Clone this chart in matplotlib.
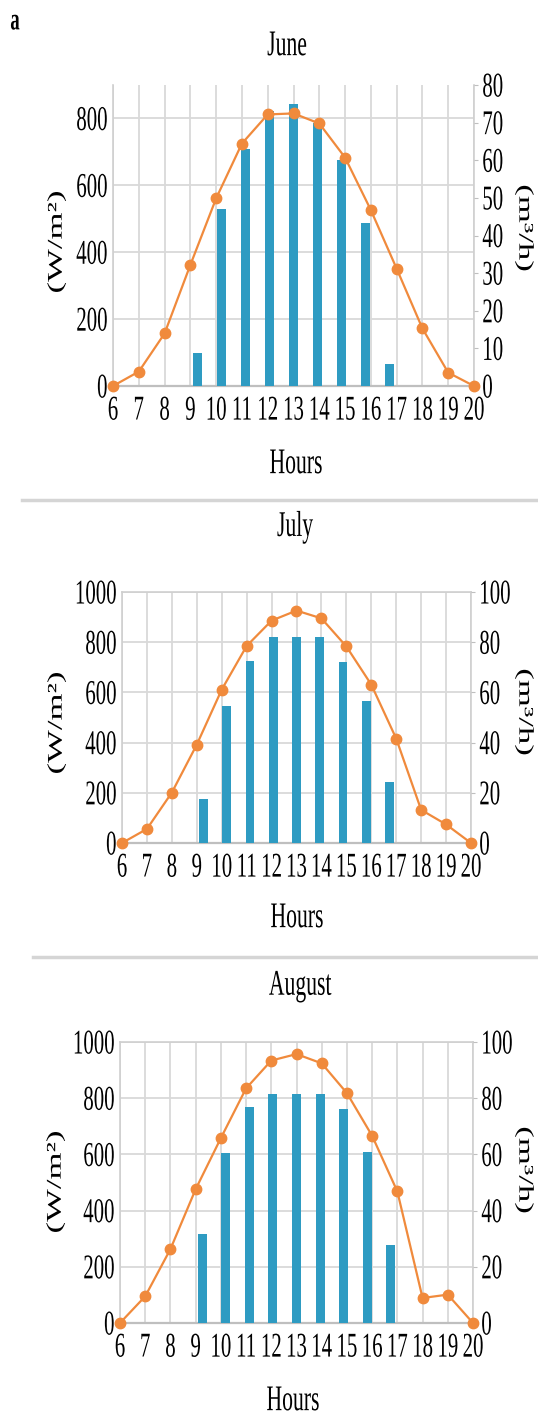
import matplotlib.pyplot as plt
from matplotlib.patheffects import AbstractPathEffect
from matplotlib.transforms import Affine2D
import numpy as np

plt.rcParams['font.family'] = ['Liberation Serif', 'DejaVu Serif']

hours = [6, 7, 8, 9, 10, 11, 12, 13, 14, 15, 16, 17, 18, 19, 20]
months = ['June', 'July', 'August']

# solar radiation (W/m2), orange line, left axis
rad_june = [0, 43, 157, 362, 561, 725, 812, 815, 785, 683, 526, 351, 172, 40, 0]
rad_july = [0, 56, 201, 392, 611, 785, 886, 926, 895, 783, 631, 416, 132, 74, 0]
rad_aug = [0, 95, 263, 476, 658, 835, 934, 957, 924, 818, 666, 468, 89, 101, 0]

# pumped flow (m3/h), blue bars, right axis
flow_june = [0, 0, 0, 8.9, 47, 63, 73, 75, 70, 60, 43.4, 5.8, 0, 0, 0]
flow_july = [0, 0, 0, 17.7, 54.4, 72.5, 82, 82, 82, 72.2, 56.4, 24.4, 0, 0, 0]
flow_aug = [0, 0, 0, 31.8, 60.4, 77, 81.5, 81.5, 81.5, 76, 61, 27.8, 0, 0, 0]

left_ticks = [[0, 200, 400, 600, 800], [0, 200, 400, 600, 800, 1000], [0, 200, 400, 600, 800, 1000]]
left_top = [900, 1000, 1000]
right_ticks = [list(range(0, 81, 10)), list(range(0, 101, 20)), list(range(0, 101, 20))]

W, H = 538, 1416
# plot boxes in pixels: x0, x1, ytop, ybottom
boxes = [(113, 474, 85, 386), (122, 471, 592, 843), (120, 473, 1042, 1323)]
title_xy = [(287, 46), (295, 528), (300, 987)]
hours_xy = [(296, 464), (297, 918), (293, 1401)]
wlab_xy = [(57, 242), (57, 723), (56, 1182)]
mlab_xy = [(524, 228), (524, 712), (524, 1170)]

blue = '#2E9BC2'
orange = '#F08A3C'
grid = '#D9D9D9'
SY = 1 / 0.6  # the scanned figure's text is tall and narrow


class Stretch(AbstractPathEffect):
    def __init__(self, sy=SY, anchor='center'):
        super().__init__()
        self.sy = sy
        self.anchor = anchor

    def draw_path(self, renderer, gc, tpath, affine, rgbFace=None):
        ext = tpath.get_extents(affine)
        if self.anchor == 'top':
            cy = ext.y1
        else:
            cy = 0.5 * (ext.y0 + ext.y1)
        t = affine + Affine2D().translate(0, -cy).scale(1, self.sy).translate(0, cy)
        renderer.draw_path(gc, tpath, t, rgbFace)


def ftext(fig, x, y, s, size, rot=0, **kw):
    fig.text(x / W, 1 - y / H, s, fontsize=size, rotation=rot, ha='center', va='center',
             path_effects=[Stretch()], **kw)


def panel(fig, i, rad, flow):
    x0, x1, yt, yb = boxes[i]
    ax = fig.add_axes([x0 / W, 1 - yb / H, (x1 - x0) / W, (yb - yt) / H])
    ax.set_xlim(hours[0], hours[-1])
    ax.set_ylim(0, left_top[i])
    ax.set_xticks(hours)
    ax.set_yticks(left_ticks[i])
    ax.grid(True, color=grid, lw=1.3)
    ax.set_axisbelow(True)
    ax.tick_params(length=0, labelsize=15, pad=4)
    ax.tick_params(axis='x', pad=7.5)
    for s in ax.spines.values():
        s.set_color('#CFCFCF')
        s.set_linewidth(1.2)
    ax.spines['bottom'].set_color('#BFBFBF')
    ax.spines['bottom'].set_linewidth(1.6)
    if i == 0:
        ax.spines['top'].set_visible(False)
    plt.setp(ax.get_xticklabels(), path_effects=[Stretch(anchor='top')])
    plt.setp(ax.get_yticklabels(), path_effects=[Stretch()])

    # bars sit between tick marks on the secondary category axis
    n = len(hours)
    step = (hours[-1] - hours[0]) / n
    bx = hours[0] + (np.arange(n) + 0.5) * step
    ax2 = ax.twinx()
    ax2.bar(bx, flow, width=0.38 * step, color=blue, zorder=2)
    ax2.set_ylim(0, right_ticks[i][-1])
    ax2.set_yticks(right_ticks[i])
    ax2.tick_params(axis='y', length=3, color='#BFBFBF', labelsize=15, pad=3)
    for s in ax2.spines.values():
        s.set_visible(False)
    plt.setp(ax2.get_yticklabels(), path_effects=[Stretch()])

    ax3 = ax.twinx()
    ax3.set_ylim(0, left_top[i])
    ax3.plot(hours, rad, '-o', color=orange, lw=1.6, ms=7.5, clip_on=False, zorder=5)
    ax3.axis('off')

    ftext(fig, *title_xy[i], months[i], 15.6)
    ftext(fig, *hours_xy[i], 'Hours', 15.6)
    ftext(fig, *wlab_xy[i], '(W/m²)', 15, rot=90)
    ftext(fig, *mlab_xy[i], '(m³/h)', 15, rot=-90)
    return ax


fig = plt.figure(figsize=(W / 100, H / 100), dpi=100)

rads = [rad_june, rad_july, rad_aug]
flows = [flow_june, flow_july, flow_aug]
for i in range(3):
    panel(fig, i, rads[i], flows[i])

# separators between panels
fig.add_artist(plt.Line2D([22 / W, 1], [1 - 500 / H, 1 - 500 / H], color='#D5D5D5', lw=2.5))
fig.add_artist(plt.Line2D([33 / W, 1], [1 - 957 / H, 1 - 957 / H], color='#D5D5D5', lw=2.5))

ftext(fig, 15, 22, 'a', 13.5, fontweight='bold')

fig.savefig('out.png', dpi=100)
